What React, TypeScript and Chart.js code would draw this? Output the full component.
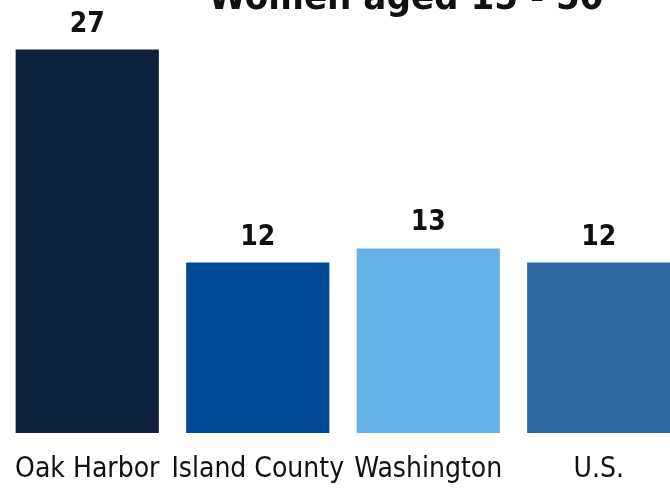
import React, { useEffect, useRef } from "react";
import { Chart, registerables } from "chart.js";

Chart.register(...registerables);

const categories = ["Oak Harbor", "Island County", "Washington", "U.S."];
const values = [27, 12, 13, 12];
const barColors = ["#0E2240", "#014A96", "#66B2E8", "#2E69A4"];
const titleText = "Women aged 15 - 50";

const FONT = "'DejaVu Sans Condensed', 'DejaVu Sans', sans-serif";

const valueLabelPlugin = {
  id: "valueLabels",
  afterDatasetsDraw(chart: any) {
    const ctx = chart.ctx;
    const meta = chart.getDatasetMeta(0);
    ctx.save();
    ctx.font = `bold 28px ${FONT}`;
    ctx.fillStyle = "#111111";
    ctx.textAlign = "center";
    ctx.textBaseline = "alphabetic";
    meta.data.forEach((bar: any, i: number) => {
      ctx.fillText(String(values[i]), bar.x, bar.y - 18);
    });
    ctx.restore();
  },
};

const titlePlugin = {
  id: "offsetTitle",
  afterDraw(chart: any) {
    const ctx = chart.ctx;
    ctx.save();
    ctx.font = `bold 38px ${FONT}`;
    ctx.fillStyle = "#111111";
    ctx.textAlign = "center";
    ctx.textBaseline = "alphabetic";
    ctx.fillText(titleText, 406, 9);
    ctx.restore();
  },
};

export default function App() {
  const ref = useRef<HTMLCanvasElement | null>(null);

  useEffect(() => {
    if (!ref.current) return;
    const chart = new Chart(ref.current, {
      type: "bar",
      data: {
        labels: categories,
        datasets: [
          {
            data: values,
            backgroundColor: barColors,
            borderWidth: 0,
            categoryPercentage: 1,
            barPercentage: 0.84,
          },
        ],
      },
      options: {
        responsive: false,
        animation: false,
        devicePixelRatio: 1,
        layout: { padding: { left: 2, right: 16, top: 7, bottom: 0 } },
        plugins: {
          legend: { display: false },
          title: { display: false },
          tooltip: { enabled: false },
        },
        scales: {
          x: {
            grid: { display: false, drawTicks: true, tickLength: 20 },
            border: { display: false },
            ticks: {
              color: "#111111",
              font: { family: FONT, size: 28 },
              padding: 0,
              maxRotation: 0,
              autoSkip: false,
            },
            afterFit: (scale: any) => {
              scale.height = 58;
            },
          },
          y: {
            display: false,
            min: 0,
            max: 30,
          },
        },
      },
      plugins: [valueLabelPlugin, titlePlugin],
    });
    return () => chart.destroy();
  }, []);

  return (
    <div
      style={{
        position: "fixed",
        left: 0,
        top: 0,
        width: 670,
        height: 491,
        overflow: "hidden",
        background: "#ffffff",
      }}
    >
      <canvas ref={ref} width={700} height={491} style={{ display: "block" }} />
    </div>
  );
}
